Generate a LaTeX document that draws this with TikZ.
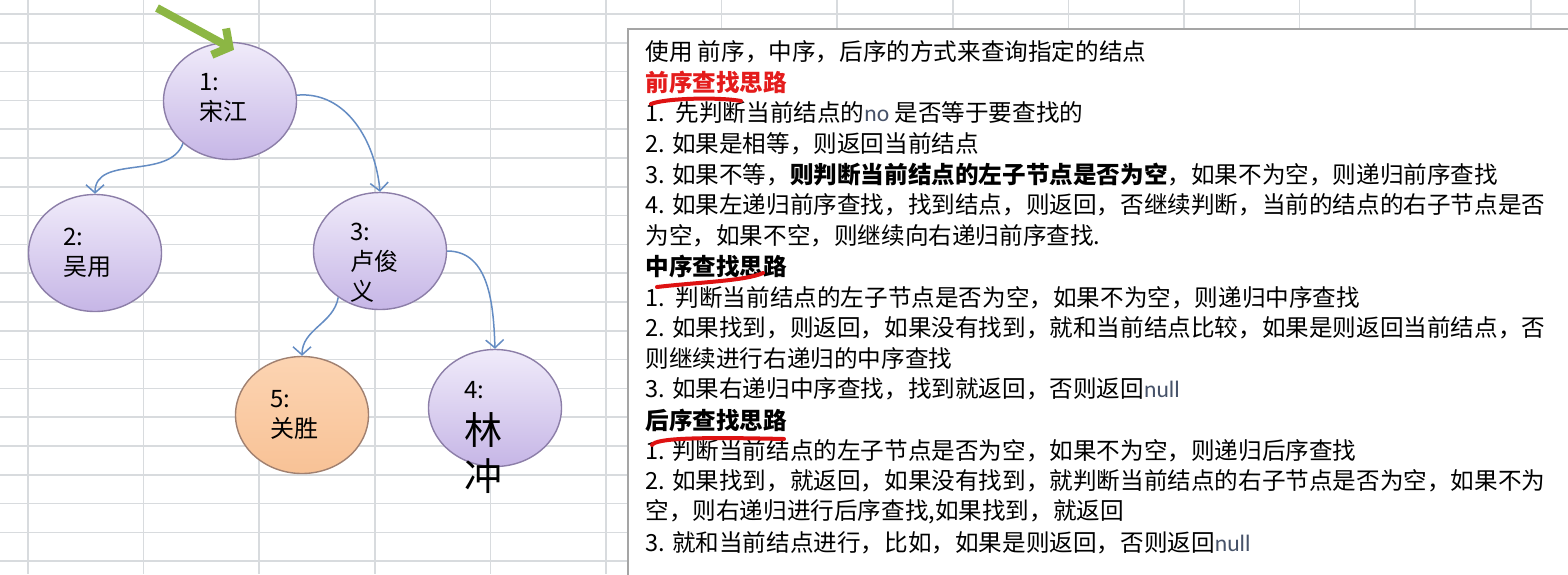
\documentclass[tikz,border=0pt]{standalone}
\usepackage{fontspec}
\setmainfont{Noto Sans CJK SC}
\newfontfamily\latinfont{Carlito}
\usetikzlibrary{arrows.meta, shapes.geometric, calc}

\definecolor{gridgray}{RGB}{216,219,222}
\definecolor{nodeline}{RGB}{140,126,168}
\definecolor{lavtop}{RGB}{240,235,250}
\definecolor{lavbot}{RGB}{198,182,230}
\definecolor{peachtop}{RGB}{252,212,178}
\definecolor{peachbot}{RGB}{248,194,150}
\definecolor{peachline}{RGB}{160,128,112}
\definecolor{linkblue}{RGB}{100,140,195}
\definecolor{hintgreen}{RGB}{140,182,68}
\definecolor{markred}{RGB}{222,18,18}
\definecolor{headred}{RGB}{228,28,28}
\definecolor{panelline}{RGB}{165,165,165}
\definecolor{nogray}{RGB}{70,82,105}

\begin{document}
\begin{tikzpicture}[x=0.5pt, y=-0.5pt,
  treenode/.style={ellipse, draw=nodeline, line width=0.7pt, inner sep=0pt,
                   minimum width=66.5pt, minimum height=58.5pt,
                   top color=lavtop, bottom color=lavbot},
  hitnode/.style={treenode, draw=peachline, top color=peachtop, bottom color=peachbot},
  lbl/.style={anchor=north west, align=left, inner sep=0pt,
              font=\fontsize{12}{14.8}\selectfont},
  txtline/.style={anchor=west, inner sep=0pt, font=\fontsize{11.8}{14}\selectfont},
  link/.style={-{Straight Barb[length=4pt,width=9pt]}, line width=0.75pt, draw=linkblue},
  hint/.style={-{Straight Barb[length=6pt,width=15pt]}, line width=4pt, draw=hintgreen},
  redmark/.style={draw=markred, line width=2pt, line cap=round},
]
  \useasboundingbox (0,0) rectangle (1568,574);
  \fill[white] (0,0) rectangle (1568,574);

  % -- spreadsheet grid --
  \foreach \gx in {0,...,13}
    \draw[gridgray, line width=0.8pt] (28+115.6*\gx,0) -- (28+115.6*\gx,574);
  \foreach \gy in {0,...,19}
    \draw[gridgray, line width=0.8pt] (0,14+28.8*\gy) -- (1568,14+28.8*\gy);

  % -- tree --
  \node[treenode] (n1) at (230,101) {};
  \node[treenode] (n2) at ( 95,253) {};
  \node[treenode] (n3) at (380,251) {};
  \node[hitnode]  (n5) at (302,415) {};
  \node[treenode] (n4) at (495,408) {};

  \node[lbl] (t1) at (199,73)  {1:\\宋江};
  \node[lbl] (t2) at ( 63,228) {2:\\吴用};
  \node[lbl] (t3) at (350,223) {3:\\卢俊\\义};
  \node[lbl] (t5) at (270,390) {5:\\关胜};
  \node[lbl, font=\fontsize{19}{23}\selectfont] (t4) at (464,381)
    {{\fontsize{12}{14}\selectfont 4:}\\林\\冲};

  \draw[link] (n1.-138) to[out=-110, in=90] (n2.north);
  \draw[link] (n1.5)    to[out=5,    in=95] (n3.north);
  \draw[link] (n3.-132) to[out=-100, in=90] (n5.north);
  \draw[link] (n3.east) to[out=0,    in=92] (n4.north);

  % start marker
  \coordinate (hintstart) at (157,8);
  \draw[hint] (hintstart) -- ($(n1.north)+(4,8)$);

  % -- text panel --
  \draw[panelline, fill=white, line width=0.8pt] (628,29) rectangle (1590,600);

  \node[txtline] (l1)  at (645,52)  {使用 前序，中序，后序的方式来查询指定的结点};
  \node[txtline] (l2)  at (645,82)  {\bfseries\color{headred}前序查找思路};
  \node[txtline] (l3)  at (645,113) {1.\ \ 先判断当前结点的{\latinfont\color{nogray}no} 是否等于要查找的};
  \node[txtline] (l4)  at (645,144) {2. 如果是相等，则返回当前结点};
  \node[txtline] (l5)  at (645,175) {3. 如果不等，{\bfseries 则判断当前结点的左子节点是否为空}，如果不为空，则递归前序查找};
  \node[txtline] (l6)  at (645,205) {4. 如果左递归前序查找，找到结点，则返回，否继续判断，当前的结点的右子节点是否};
  \node[txtline] (l7)  at (645,236) {为空，如果不空，则继续向右递归前序查找.};
  \node[txtline] (l8)  at (645,266) {\bfseries 中序查找思路};
  \node[txtline] (l9)  at (645,298) {1.\ \ 判断当前结点的左子节点是否为空，如果不为空，则递归中序查找};
  \node[txtline] (l10) at (645,328) {2. 如果找到，则返回，如果没有找到，就和当前结点比较，如果是则返回当前结点，否};
  \node[txtline] (l11) at (645,359) {则继续进行右递归的中序查找};
  \node[txtline] (l12) at (645,389) {3. 如果右递归中序查找，找到就返回，否则返回{\latinfont\color{nogray}null}};
  \node[txtline] (l13) at (645,420) {\bfseries 后序查找思路};
  \node[txtline] (l14) at (645,451) {1. 判断当前结点的左子节点是否为空，如果不为空，则递归后序查找};
  \node[txtline] (l15) at (645,481) {2. 如果找到，就返回，如果没有找到，就判断当前结点的右子节点是否为空，如果不为};
  \node[txtline] (l16) at (645,512) {空，则右递归进行后序查找,如果找到，就返回};
  \node[txtline] (l17) at (645,543) {3. 就和当前结点进行，比如，如果是则返回，否则返回{\latinfont\color{nogray}null}};

  % red strokes under the headings
  \draw[redmark] (651,104) .. controls (665,98) and (720,97) .. (741,101);
  \draw[redmark] (657,287) .. controls (700,282) and (745,281) .. (763,273);
  \draw[redmark] (652,445) .. controls (656,438) and (700,437) .. (784,439);
\end{tikzpicture}
\end{document}
